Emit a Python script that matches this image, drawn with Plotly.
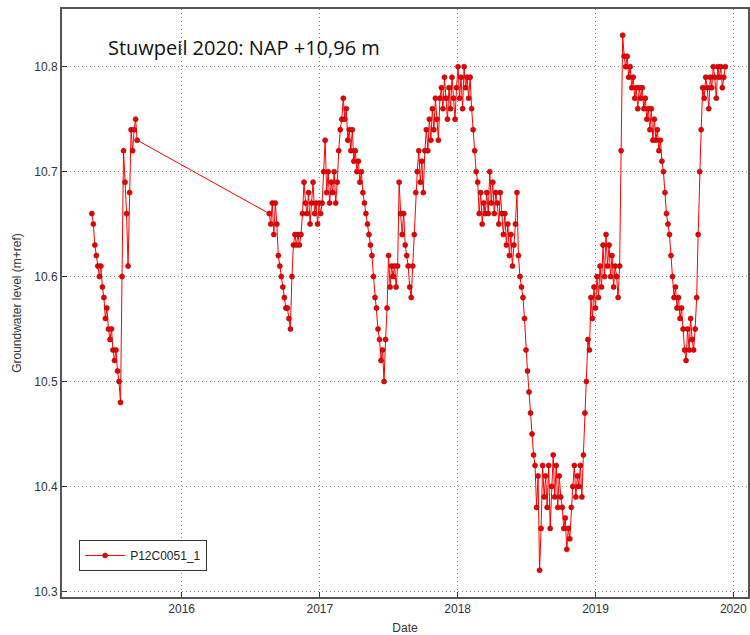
import pandas as pd
import plotly.graph_objects as go

# Logger readings of well P12C0051_1, sampled every 4 days
interval_days = 4

seg1_start = "2015-05-08"
seg1_level = [
    10.66, 10.65, 10.63, 10.62, 10.61, 10.60, 10.61, 10.59, 10.58, 10.56,
    10.57, 10.55, 10.54, 10.55, 10.53, 10.52, 10.53, 10.51, 10.50, 10.48,
    10.60, 10.72, 10.69, 10.66, 10.61, 10.68, 10.74, 10.72, 10.74, 10.75,
    10.73,
]

seg2_start = "2016-08-20"
seg2_level = [
    10.66, 10.65, 10.67, 10.64, 10.67, 10.65, 10.62, 10.61, 10.60, 10.59,
    10.58, 10.57, 10.57, 10.56, 10.55, 10.60, 10.63, 10.64, 10.63, 10.64,
    10.63, 10.64, 10.66, 10.69, 10.67, 10.66, 10.68, 10.65, 10.67, 10.69,
    10.66, 10.67, 10.65, 10.67, 10.66, 10.67, 10.70, 10.73, 10.68, 10.70,
    10.67, 10.69, 10.68, 10.70, 10.67, 10.69, 10.72, 10.74, 10.75, 10.77,
    10.75, 10.76, 10.73, 10.74, 10.72, 10.74, 10.71, 10.72, 10.70, 10.71,
    10.69, 10.70, 10.68, 10.67, 10.66, 10.65, 10.64, 10.63, 10.62, 10.60,
    10.58, 10.57, 10.55, 10.54, 10.52, 10.53, 10.50, 10.54, 10.57, 10.62,
    10.59, 10.61, 10.60, 10.61, 10.59, 10.61, 10.69, 10.66, 10.64, 10.66,
    10.63, 10.62, 10.61, 10.59, 10.58, 10.61, 10.64, 10.68, 10.70, 10.72,
    10.69, 10.71, 10.68, 10.72, 10.74, 10.72, 10.75, 10.73, 10.76, 10.74,
    10.77, 10.75, 10.73, 10.77, 10.78, 10.76, 10.79, 10.77, 10.75, 10.78,
    10.76, 10.79, 10.77, 10.75, 10.78, 10.80, 10.77, 10.79, 10.76, 10.80,
    10.78, 10.79, 10.77, 10.79, 10.76, 10.74, 10.72, 10.70, 10.69, 10.66,
    10.68, 10.65, 10.67, 10.66, 10.68, 10.66, 10.70, 10.67, 10.69, 10.66,
    10.68, 10.67, 10.65, 10.68, 10.66, 10.64, 10.66, 10.63, 10.65, 10.62,
    10.64, 10.61, 10.63, 10.65, 10.68, 10.62, 10.60, 10.59, 10.58, 10.56,
    10.53, 10.51, 10.49, 10.47, 10.45, 10.43, 10.42, 10.38, 10.41, 10.32,
    10.36, 10.42, 10.39, 10.41, 10.38, 10.42, 10.36, 10.40, 10.43, 10.39,
    10.42, 10.38, 10.41, 10.39, 10.38, 10.36, 10.37, 10.34, 10.36, 10.35,
    10.38, 10.40, 10.42, 10.39, 10.41, 10.40, 10.42, 10.39, 10.43, 10.47,
    10.50, 10.54, 10.53, 10.58, 10.56, 10.59, 10.57, 10.60, 10.58, 10.61,
    10.59, 10.63, 10.60, 10.64, 10.61, 10.63, 10.60, 10.62, 10.59, 10.61,
    10.60, 10.58, 10.61, 10.72, 10.83, 10.81, 10.80, 10.81, 10.79, 10.80,
    10.78, 10.79, 10.77, 10.78, 10.76, 10.78, 10.77, 10.78, 10.76, 10.77,
    10.75, 10.76, 10.74, 10.76, 10.73, 10.75, 10.73, 10.74, 10.72, 10.73,
    10.71, 10.70, 10.68, 10.66, 10.65, 10.64, 10.62, 10.60, 10.58, 10.59,
    10.57, 10.58, 10.56, 10.57, 10.55, 10.53, 10.52, 10.55, 10.53, 10.56,
    10.54, 10.53, 10.55, 10.58, 10.64, 10.70, 10.74, 10.78, 10.77, 10.79,
    10.78, 10.76, 10.79, 10.78, 10.80, 10.79, 10.77, 10.80, 10.79, 10.80,
    10.78, 10.79, 10.80,
]

series_name = "P12C0051_1"
title_text = "Stuwpeil 2020: NAP +10,96 m"
year_ticks = ["2016", "2017", "2018", "2019", "2020"]
level_ticks = [10.3, 10.4, 10.5, 10.6, 10.7, 10.8]

step = pd.Timedelta(days=interval_days)
dates1 = [pd.Timestamp(seg1_start) + k * step for k in range(len(seg1_level))]
dates2 = [pd.Timestamp(seg2_start) + k * step for k in range(len(seg2_level))]
dates = dates1 + dates2
levels = seg1_level + seg2_level

fig = go.Figure()
fig.add_trace(go.Scatter(
    x=dates, y=levels, mode="lines+markers", name=series_name,
    line=dict(color="#ff0000", width=1),
    marker=dict(symbol="circle", size=5, color="#ee0000",
                line=dict(color="#a00000", width=0.6)),
))

sans = "Liberation Sans, Arial, sans-serif"
axis_font = dict(family=sans, size=12, color="#333333")
grid_dash = "1px,3px"

fig.update_layout(
    width=750, height=635,
    margin=dict(l=62, r=0, t=9, b=38),
    paper_bgcolor="white", plot_bgcolor="white",
    showlegend=True,
    legend=dict(
        x=0.025, y=0.097, xanchor="left", yanchor="top",
        bgcolor="white", bordercolor="#333333", borderwidth=1,
        font=dict(family=sans, size=12, color="#222222"),
        itemwidth=40, tracegroupgap=0,
    ),
    annotations=[dict(
        text=title_text, xref="paper", yref="paper",
        x=0.064, y=0.935, xanchor="left", yanchor="middle", showarrow=False,
        font=dict(family="Open Sans, sans-serif", size=20, color="#111111"),
    )],
)

fig.update_xaxes(
    type="date",
    range=["2015-02-18", "2020-02-09"],
    tickvals=[f"{y}-01-01" for y in year_ticks], ticktext=year_ticks,
    ticks="inside", ticklen=5, tickcolor="#333333",
    showgrid=True, gridcolor="#8a8a8a", griddash=grid_dash, gridwidth=1,
    showline=True, linecolor="#555555", linewidth=2, mirror=True,
    tickfont=axis_font,
    title=dict(text="Date", font=dict(family=sans, size=12, color="#333333"), standoff=9),
    zeroline=False,
)
fig.update_yaxes(
    range=[10.2946, 10.855],
    tickvals=level_ticks, ticktext=[f"{v:.1f}" for v in level_ticks],
    ticks="inside", ticklen=5, tickcolor="#333333",
    showgrid=True, gridcolor="#8a8a8a", griddash=grid_dash, gridwidth=1,
    showline=True, linecolor="#555555", linewidth=2, mirror=True,
    tickfont=axis_font,
    title=dict(text="Groundwater level (m+ref)", font=dict(family=sans, size=12, color="#333333"), standoff=10),
    zeroline=False,
)

fig.write_html("out.html")
